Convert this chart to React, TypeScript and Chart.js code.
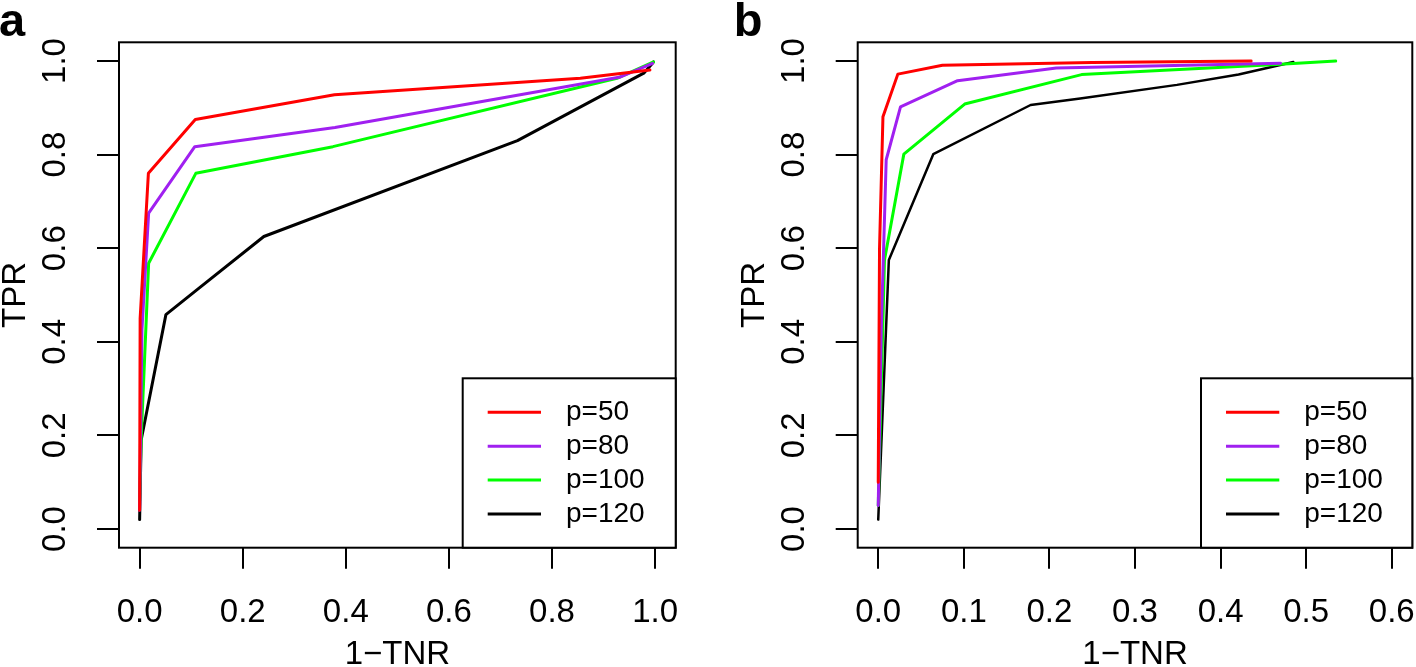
import React, { useEffect, useRef } from 'react';
import { Chart, registerables } from 'chart.js';

Chart.register(...registerables);

const FONT = '"Liberation Sans", Arial, Helvetica, sans-serif';

const seriesLabels = ['p=50', 'p=80', 'p=100', 'p=120'];
const seriesColors = ['#FF0000', '#A020F0', '#00FF00', '#000000'];

const yTicks = [0, 0.2, 0.4, 0.6, 0.8, 1.0];
const xTicksA = [0, 0.2, 0.4, 0.6, 0.8, 1.0];
const xTicksB = [0, 0.1, 0.2, 0.3, 0.4, 0.5, 0.6];

// Panel a
const a50X = [0, 0.001, 0.017, 0.108, 0.378, 0.855, 0.99];
const a50Y = [0.04, 0.45, 0.76, 0.875, 0.928, 0.963, 0.981];
const a80X = [0, 0.0045, 0.0175, 0.107, 0.379, 0.933, 0.995];
const a80Y = [0.04, 0.426, 0.675, 0.817, 0.858, 0.966, 0.995];
const a100X = [0, 0.0027, 0.0175, 0.109, 0.375, 0.926, 0.997];
const a100Y = [0.06, 0.184, 0.568, 0.76, 0.817, 0.963, 0.998];
const a120X = [0, 0.003, 0.051, 0.111, 0.241, 0.733, 0.978, 0.997];
const a120Y = [0.02, 0.19, 0.458, 0.511, 0.625, 0.83, 0.974, 0.998];

// Panel b
const b50X = [0, 0.0015, 0.0055, 0.0229, 0.075, 0.25, 0.4357];
const b50Y = [0.1, 0.6, 0.881, 0.972, 0.991, 0.997, 1.0];
const b80X = [0, 0.0035, 0.0093, 0.026, 0.0927, 0.208, 0.47];
const b80Y = [0.05, 0.426, 0.789, 0.902, 0.958, 0.985, 0.995];
const b100X = [0, 0.0073, 0.0299, 0.101, 0.2376, 0.46, 0.5345];
const b100Y = [0.05, 0.575, 0.801, 0.908, 0.971, 0.992, 1.0];
const b120X = [0, 0.0124, 0.0643, 0.178, 0.236, 0.349, 0.421, 0.485];
const b120Y = [0.02, 0.575, 0.801, 0.906, 0.92, 0.949, 0.971, 0.998];

const zip = (xs: number[], ys: number[]) => xs.map((x, i) => ({ x, y: ys[i] }));

const panelPlugin = {
  id: 'panelDecor',
  afterDraw(chart: any, _args: any, opts: any) {
    const { ctx, chartArea: ca } = chart;
    ctx.save();
    ctx.strokeStyle = '#000';
    ctx.lineWidth = 2;
    ctx.strokeRect(ca.left, ca.top, ca.right - ca.left, ca.bottom - ca.top);
    // legend
    const left = ca.right - opts.legendWidth;
    const top = opts.legendTop;
    ctx.fillStyle = '#fff';
    ctx.fillRect(left, top, ca.right - left, ca.bottom - top);
    ctx.strokeStyle = '#000';
    ctx.lineWidth = 2;
    ctx.strokeRect(left, top, ca.right - left, ca.bottom - top);
    chart.data.datasets.forEach((ds: any, i: number) => {
      const y = top + 34 + i * 33.9;
      ctx.strokeStyle = ds.borderColor;
      ctx.lineWidth = 3;
      ctx.lineCap = 'butt';
      ctx.beginPath();
      ctx.moveTo(left + 25, y);
      ctx.lineTo(left + 78.3, y);
      ctx.stroke();
      ctx.fillStyle = '#000';
      ctx.font = `28px ${FONT}`;
      ctx.textBaseline = 'middle';
      ctx.textAlign = 'left';
      ctx.fillText(ds.label, left + 103.3, y);
    });
    // panel letter
    ctx.fillStyle = '#000';
    ctx.font = `bold 47px ${FONT}`;
    ctx.textBaseline = 'alphabetic';
    ctx.textAlign = 'left';
    ctx.fillText(opts.letter, opts.letterX, opts.letterY);
    ctx.restore();
  },
};

type PanelSpec = {
  series: { x: number[]; y: number[] }[];
  xMin: number;
  xMax: number;
  xTicks: number[];
  yWidth: number;
  padRight: number;
  yTitlePad: number;
  letter: string;
  letterX: number;
  legendWidth: number;
  blackWidth: number;
};

function makeConfig(p: PanelSpec): any {
  return {
    type: 'line',
    data: {
      datasets: p.series.map((s, i) => ({
        label: seriesLabels[i],
        data: zip(s.x, s.y),
        borderColor: seriesColors[i],
        backgroundColor: seriesColors[i],
        borderWidth: i === 3 ? p.blackWidth : 3,
        pointRadius: 0,
        tension: 0,
        fill: false,
        borderCapStyle: 'round',
        borderJoinStyle: 'round',
      })),
    },
    options: {
      animation: false,
      responsive: false,
      events: [],
      layout: { padding: { top: 42.3, right: p.padRight, left: 0, bottom: 0 } },
      plugins: {
        legend: { display: false },
        tooltip: { enabled: false },
        panelDecor: {
          letter: p.letter,
          letterX: p.letterX,
          letterY: 35.5,
          legendWidth: p.legendWidth,
          legendTop: 378.3,
        },
      },
      scales: {
        x: {
          type: 'linear',
          min: p.xMin,
          max: p.xMax,
          afterBuildTicks: (axis: any) => {
            axis.ticks = p.xTicks.map((v) => ({ value: v }));
          },
          afterFit: (axis: any) => {
            axis.height = 119.3;
            axis.paddingLeft = 0;
            axis.paddingRight = 0;
          },
          border: { display: false },
          grid: {
            drawOnChartArea: false,
            drawTicks: true,
            tickLength: 21,
            tickWidth: 2,
            tickColor: '#000',
            lineWidth: 2,
            color: '#000',
          },
          ticks: {
            color: '#000',
            font: { family: FONT, size: 33 },
            padding: 24,
            maxRotation: 0,
            minRotation: 0,
            callback: (v: number) => v.toFixed(1),
          },
          title: {
            display: true,
            text: '1\u2212TNR',
            color: '#000',
            font: { family: FONT, size: 33 },
            padding: { top: 0, bottom: -7.4 },
          },
        },
        y: {
          type: 'linear',
          min: -0.04,
          max: 1.04,
          afterBuildTicks: (axis: any) => {
            axis.ticks = yTicks.map((v) => ({ value: v }));
          },
          afterFit: (axis: any) => {
            axis.width = p.yWidth;
            axis.paddingTop = 0;
            axis.paddingBottom = 0;
          },
          border: { display: false },
          grid: {
            drawOnChartArea: false,
            drawTicks: true,
            tickLength: 22,
            tickWidth: 2,
            tickColor: '#000',
            lineWidth: 2,
            color: '#000',
          },
          ticks: {
            color: '#000',
            font: { family: FONT, size: 33 },
            padding: 18,
            minRotation: 90,
            maxRotation: 90,
            crossAlign: 'center',
            callback: (v: number) => v.toFixed(1),
          },
          title: {
            display: true,
            text: 'TPR',
            color: '#000',
            font: { family: FONT, size: 33 },
            padding: { top: p.yTitlePad, bottom: 0 },
          },
        },
      },
    },
    plugins: [panelPlugin],
  };
}

const panelA: PanelSpec = {
  series: [
    { x: a50X, y: a50Y },
    { x: a80X, y: a80Y },
    { x: a100X, y: a100Y },
    { x: a120X, y: a120Y },
  ],
  xMin: -0.04,
  xMax: 1.04,
  xTicks: xTicksA,
  yWidth: 119,
  padRight: 32.3,
  yTitlePad: -4.2,
  letter: 'a',
  letterX: -1,
  legendWidth: 213,
  blackWidth: 3,
};

const panelB: PanelSpec = {
  series: [
    { x: b50X, y: b50Y },
    { x: b80X, y: b80Y },
    { x: b100X, y: b100Y },
    { x: b120X, y: b120Y },
  ],
  xMin: -0.024,
  xMax: 0.624,
  xTicks: xTicksB,
  yWidth: 149.7,
  padRight: 3.7,
  yTitlePad: 26.8,
  letter: 'b',
  letterX: 25.7,
  legendWidth: 211.3,
  blackWidth: 2.5,
};

export default function App() {
  const refA = useRef<HTMLCanvasElement | null>(null);
  const refB = useRef<HTMLCanvasElement | null>(null);

  useEffect(() => {
    const ca = new Chart(refA.current as HTMLCanvasElement, makeConfig(panelA));
    const cb = new Chart(refB.current as HTMLCanvasElement, makeConfig(panelB));
    return () => {
      ca.destroy();
      cb.destroy();
    };
  }, []);

  return (
    <div
      style={{
        position: 'fixed',
        left: 0,
        top: 0,
        width: 1416,
        height: 667,
        overflow: 'hidden',
        background: '#fff',
      }}
    >
      <canvas
        ref={refA}
        width={708}
        height={667}
        style={{ position: 'absolute', left: 0, top: 0, width: 708, height: 667 }}
      />
      <canvas
        ref={refB}
        width={708}
        height={667}
        style={{ position: 'absolute', left: 708, top: 0, width: 708, height: 667 }}
      />
    </div>
  );
}
